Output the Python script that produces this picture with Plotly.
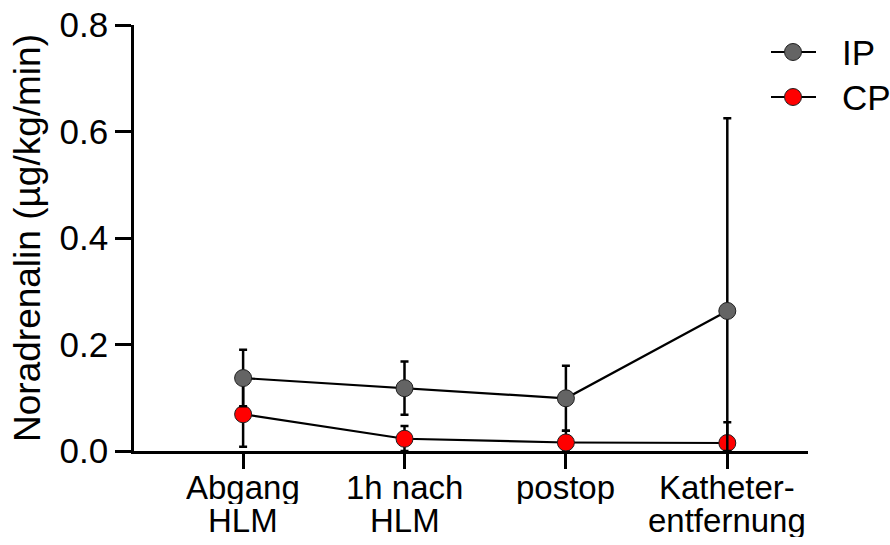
import plotly.graph_objects as go

# Time points (first and second line of each category label)
categories = ["Abgang", "1h nach", "postop", "Katheter-"]
categories_line2 = ["HLM", "HLM", "", "entfernung"]
x_pos = [0, 1, 2, 3]

# Noradrenalin dose (µg/kg/min), mean and SD per group
ip_mean = [0.137, 0.118, 0.099, 0.263]
ip_sd = [0.053, 0.050, 0.061, 0.362]
cp_mean = [0.069, 0.023, 0.016, 0.015]
cp_sd = [0.061, 0.024, 0.022, 0.039]

y_ticks = [0.0, 0.2, 0.4, 0.6, 0.8]

FONT = "Liberation Sans, Arial, sans-serif"
IP_COLOR = "#646464"
CP_COLOR = "#ff0000"
EDGE = "#202020"

# plot area in pixels
W, H = 890, 545
ML, MR, MT, MB = 134, 82, 25, 94
PW, PH = W - ML - MR, H - MT - MB


def px_to_paper(px, py):
    return (px - ML) / PW, (H - MB - py) / PH


def lower_err(mean, sd):
    # error bars are cut at zero
    return [min(m, s) for m, s in zip(mean, sd)]


fig = go.Figure()

fig.add_trace(go.Scatter(
    x=x_pos, y=cp_mean, name="CP", mode="lines+markers", showlegend=False,
    line=dict(color="black", width=2.2),
    marker=dict(size=17, color=CP_COLOR, line=dict(color=EDGE, width=1)),
    error_y=dict(type="data", array=cp_sd, arrayminus=lower_err(cp_mean, cp_sd),
                 symmetric=False, color="black", thickness=2.5, width=4),
    cliponaxis=False,
))
fig.add_trace(go.Scatter(
    x=x_pos, y=ip_mean, name="IP", mode="lines+markers", showlegend=False,
    line=dict(color="black", width=2.2),
    marker=dict(size=17, color=IP_COLOR, line=dict(color=EDGE, width=1)),
    error_y=dict(type="data", array=ip_sd, arrayminus=lower_err(ip_mean, ip_sd),
                 symmetric=False, color="black", thickness=2.5, width=4),
    cliponaxis=False,
))

# two-line category labels under the x axis
for xv, l1, l2 in zip(x_pos, categories, categories_line2):
    for txt, shift in ((l1, -18), (l2, -51)):
        if txt:
            fig.add_annotation(x=xv, y=0, xref="x", yref="paper", text=txt,
                               showarrow=False, yanchor="top", yshift=shift,
                               height=33, valign="middle",
                               font=dict(family=FONT, size=33, color="black"))

# legend: line with marker, then the group name
for name, color, row_y in (("IP", IP_COLOR, 52), ("CP", CP_COLOR, 97)):
    x0, y0 = px_to_paper(771, row_y)
    x1, _ = px_to_paper(816, row_y)
    xc, _ = px_to_paper(793, row_y)
    xt, _ = px_to_paper(840, row_y)
    fig.add_shape(type="line", xref="paper", yref="paper", x0=x0, x1=x1, y0=y0, y1=y0,
                  line=dict(color="black", width=2.2))
    fig.add_shape(type="circle", xref="paper", yref="paper",
                  xsizemode="pixel", ysizemode="pixel", xanchor=xc, yanchor=y0,
                  x0=-8.5, x1=8.5, y0=-8.5, y1=8.5,
                  fillcolor=color, line=dict(color=EDGE, width=1))
    fig.add_annotation(x=xt, y=y0, xref="paper", yref="paper", text=name,
                       showarrow=False, xanchor="left", yanchor="middle",
                       font=dict(family=FONT, size=35, color="black"))

fig.update_layout(
    width=W, height=H,
    margin=dict(l=ML, r=MR, t=MT, b=MB, autoexpand=False),
    plot_bgcolor="white", paper_bgcolor="white",
    font=dict(family=FONT, color="black"),
    showlegend=False,
    xaxis=dict(range=[-0.676, 3.5], tickvals=x_pos, ticktext=["", "", "", ""],
               showline=True, linecolor="black", linewidth=2.5,
               ticks="outside", ticklen=15, tickwidth=2.5, tickcolor="black",
               showgrid=False, zeroline=False),
    yaxis=dict(range=[0, 0.8], tickvals=y_ticks, tickformat=".1f",
               showline=True, linecolor="black", linewidth=2.5,
               ticks="outside", ticklen=16, tickwidth=2.5, tickcolor="black",
               showgrid=False, zeroline=False,
               tickfont=dict(family=FONT, size=35, color="black"),
               title=dict(text="Noradrenalin (µg/kg/min)", standoff=8,
                          font=dict(family=FONT, size=37, color="black"))),
)

fig.write_html("out.html")
